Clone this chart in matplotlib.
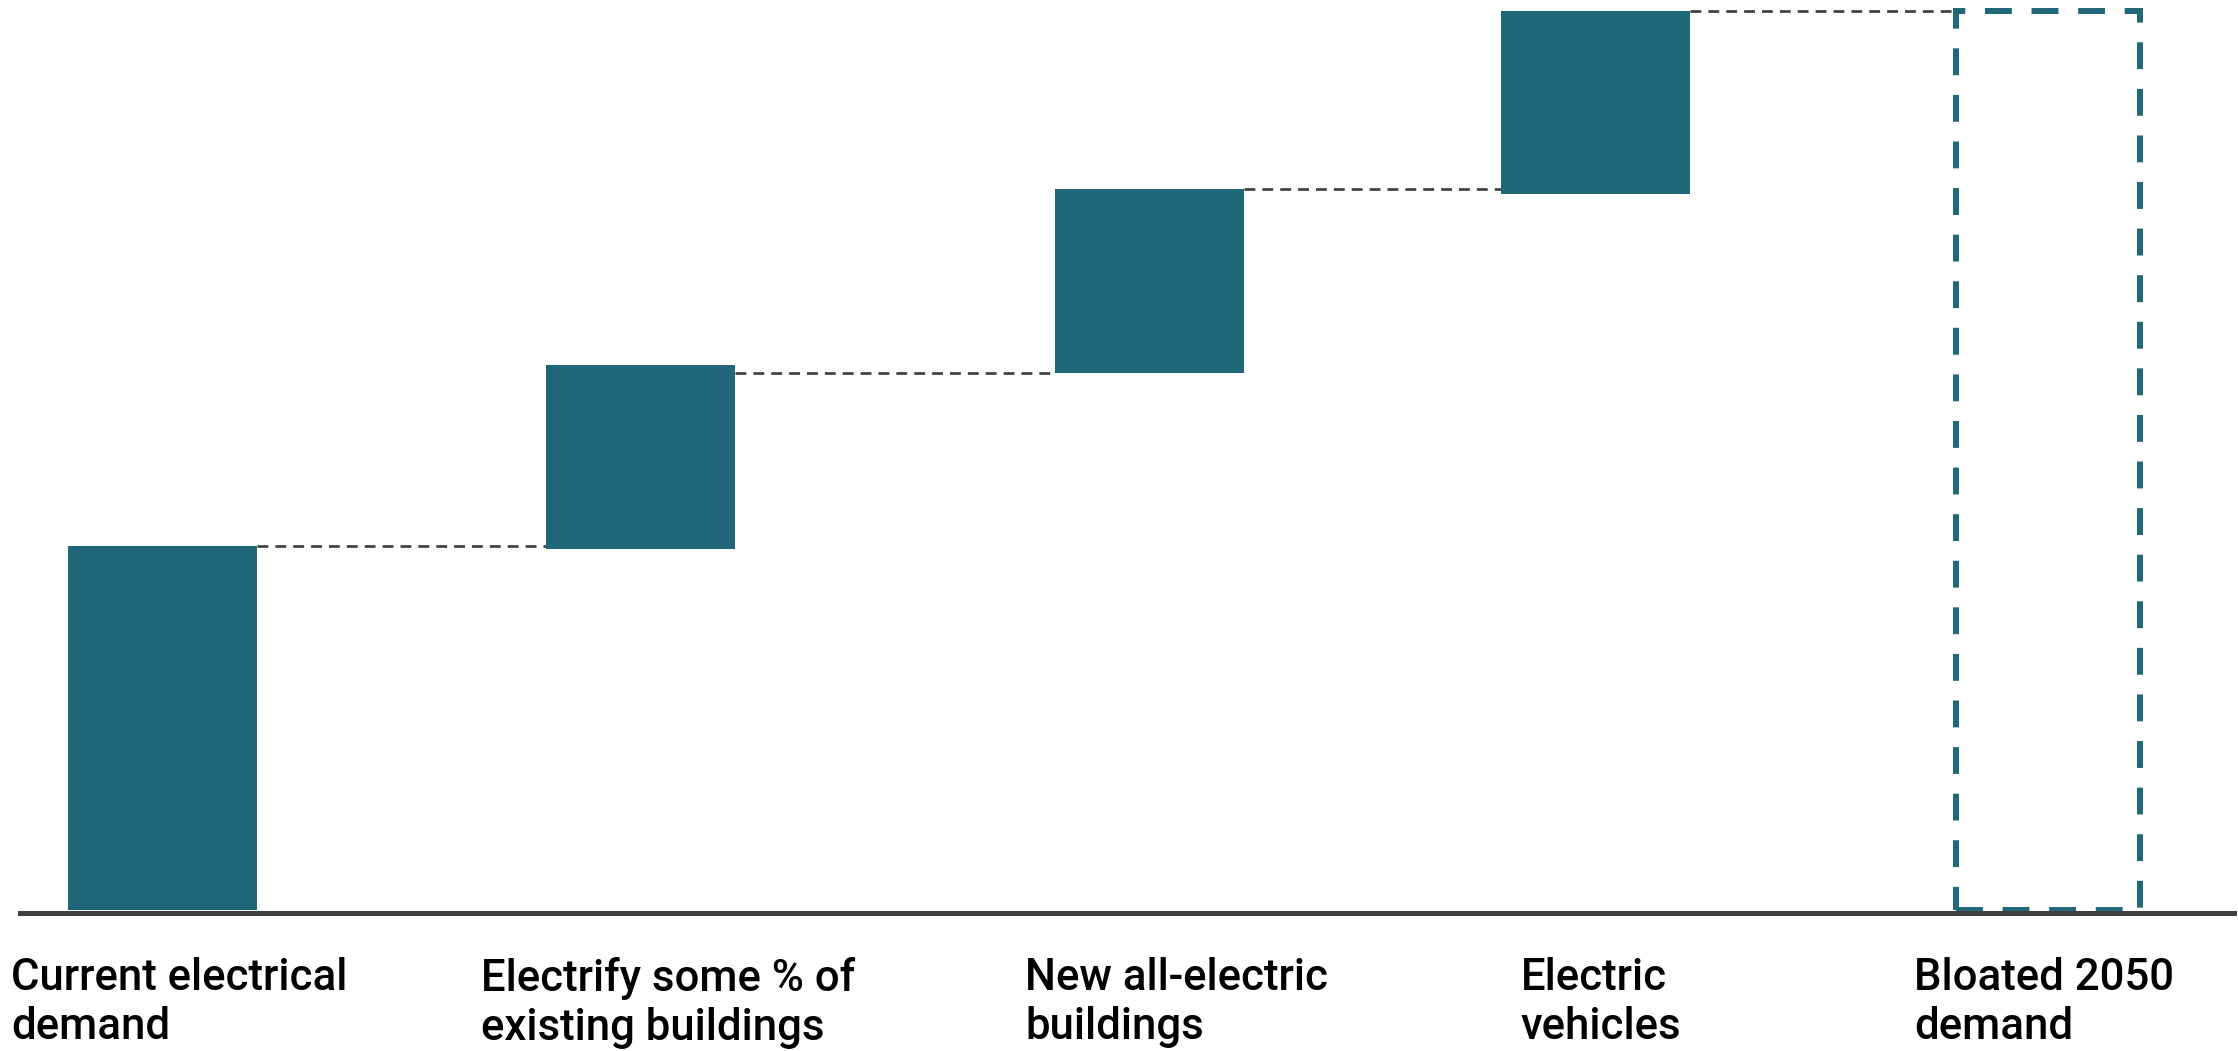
import matplotlib
matplotlib.use('Agg')
import matplotlib.pyplot as plt

plt.rcParams['font.family'] = ['Roboto', 'DejaVu Sans']

# Demand build-up (arbitrary units, current demand = 100)
categories = ['Current electrical\ndemand',
              'Electrify some % of\nexisting buildings',
              'New all-electric\nbuildings',
              'Electric\nvehicles',
              'Bloated 2050\ndemand']
step_bottoms = [0, 99.3, 147.6, 196.7]
step_tops = [100, 149.7, 198.1, 247.0]
total_demand = 247.0
connector_levels = [100, 147.6, 198.1, 247.0]

# layout
x_pos = [0, 1.014, 2.094, 3.040, 4.0]
bar_width = 0.401
label_x = [0.0049, 0.215, 0.458, 0.6796, 0.8553]
teal = '#21677a'
grey = '#404040'

fig = plt.figure(figsize=(22.38, 10.51), dpi=100)
ax = fig.add_axes([20 / 2238, 141 / 1051, 2214 / 2238, 910 / 1051])

heights = [t - b for t, b in zip(step_tops, step_bottoms)]
ax.bar(x_pos[:4], heights, bottom=step_bottoms, width=bar_width,
       color=teal, linewidth=0, zorder=2)

# dashed outline for the projected total
ax.bar(x_pos[4], total_demand, width=0.39, fill=False, edgecolor=teal,
       linewidth=4.3, linestyle=(0, (4.5, 3.3)), clip_on=False, zorder=2)

# connectors between steps
for i, level in enumerate(connector_levels):
    x0 = x_pos[i] + bar_width / 2
    x1 = x_pos[i + 1] - (bar_width if i < 3 else 0.39) / 2
    ax.plot([x0, x1], [level, level], color=grey, linewidth=1.95,
            linestyle=(0, (4, 2.6)), zorder=1)

ax.set_xlim(-0.3023, 4.394)
ax.set_ylim(0, 250)
for side in ['left', 'top', 'right']:
    ax.spines[side].set_visible(False)
ax.spines['bottom'].set_color(grey)
ax.spines['bottom'].set_linewidth(3.6)
ax.spines['bottom'].set_position(('outward', 2))
ax.set_xticks([])
ax.set_yticks([])

for lx, label in zip(label_x, categories):
    fig.text(lx, 1 - 957 / 1051, label, ha='left', va='top', fontsize=31.5,
             fontweight='medium', color='black', linespacing=1.2)

fig.savefig('out.png', dpi=100, facecolor='white')
